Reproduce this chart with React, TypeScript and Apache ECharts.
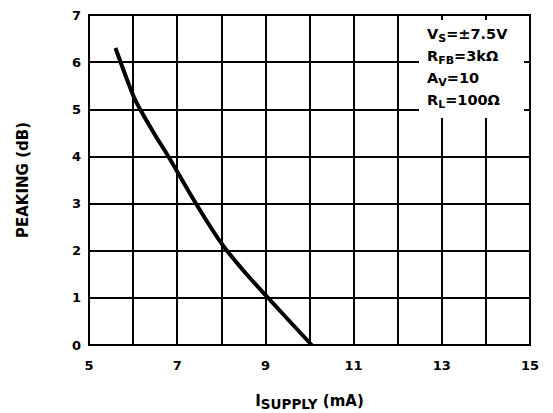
import React, { useEffect, useRef } from "react";
import * as echarts from "echarts";

const supplyCurrent = [5.6, 6.0, 6.2, 6.5, 6.8, 7.4, 8.0, 8.5, 9.03, 10.05];
const peakingDb = [6.3, 5.3, 4.93, 4.45, 4.0, 3.04, 2.16, 1.58, 1.03, 0];
const xTickLabels = ["5", "7", "9", "11", "13", "15"];
const yTickLabels = ["0", "1", "2", "3", "4", "5", "6", "7"];
const conditions = [
  ["V", "S", "=±7.5V"],
  ["R", "FB", "=3kΩ"],
  ["A", "V", "=10"],
  ["R", "L", "=100Ω"],
];

const FONT = "'DejaVu Sans', 'Liberation Sans', Arial, sans-serif";

export default function App() {
  const ref = useRef<HTMLDivElement>(null);
  useEffect(() => {
    if (!ref.current) return;
    const chart = echarts.init(ref.current, null, { renderer: "svg" });
    const rich = {
      m: { fontSize: 14.5, fontWeight: "bold", fontFamily: FONT, color: "#000", lineHeight: 22 },
      s: { fontSize: 11, fontWeight: "bold", fontFamily: FONT, color: "#000", padding: [9, 0, 0, 0] },
    };
    const condText = conditions.map((c) => `{m|${c[0]}}{s|${c[1]}}{m|${c[2]}}`).join("\n");
    chart.setOption({
      animation: false,
      backgroundColor: "#fff",
      grid: {
        left: 89,
        right: 23,
        top: 15,
        bottom: 68,
        outerBoundsMode: "none",
        containLabel: false,
        show: true,
        borderColor: "#000",
        borderWidth: 2,
      },
      xAxis: {
        type: "value",
        min: 5,
        max: 15,
        interval: 1,
        axisLine: { show: true, lineStyle: { color: "#000", width: 2 } },
        axisTick: { show: false },
        splitLine: { show: true, lineStyle: { color: "#000", width: 2 } },
        axisLabel: {
          color: "#000",
          fontSize: 13,
          fontWeight: "bold",
          fontFamily: FONT,
          margin: 14,
          formatter: (v: number) => (xTickLabels.includes(String(v)) ? String(v) : ""),
        },
        name: "{m|I}{s|SUPPLY}{m| (mA)}",
        nameLocation: "middle",
        nameGap: 45,
        nameTextStyle: {
          rich: {
            m: { fontSize: 15, fontWeight: "bold", fontFamily: FONT, color: "#000" },
            s: { fontSize: 13.5, fontWeight: "bold", fontFamily: FONT, color: "#000", padding: [7, 0, 0, 0] },
          },
        },
      },
      yAxis: {
        type: "value",
        min: 0,
        max: 7,
        interval: 1,
        axisLine: { show: true, lineStyle: { color: "#000", width: 2 } },
        axisTick: { show: false },
        splitLine: { show: true, lineStyle: { color: "#000", width: 2 } },
        axisLabel: {
          color: "#000",
          fontSize: 13,
          fontWeight: "bold",
          fontFamily: FONT,
          margin: 8,
          formatter: (v: number) => (yTickLabels.includes(String(v)) ? String(v) : ""),
        },
        name: "PEAKING (dB)",
        nameLocation: "middle",
        nameRotate: 90,
        nameGap: 59,
        nameTextStyle: { color: "#000", fontSize: 15, fontWeight: "bold", fontFamily: FONT },
      },
      graphic: [
        { type: "rect", z: 100, shape: { x: 419, y: 20, width: 105, height: 98 }, style: { fill: "#fff" } },
        {
          type: "text",
          z: 101,
          x: 427,
          y: 23,
          style: { text: condText, rich, fill: "#000" },
        },
      ],
      series: [
        {
          type: "line",
          data: supplyCurrent.map((x, i) => [x, peakingDb[i]]),
          smooth: 0.3,
          showSymbol: false,
          lineStyle: { color: "#000", width: 4 },
          z: 5,
        },
      ],
    });
    return () => chart.dispose();
  }, []);
  return <div ref={ref} style={{ position: "absolute", left: 0, top: 0, width: 553, height: 413 }} />;
}
